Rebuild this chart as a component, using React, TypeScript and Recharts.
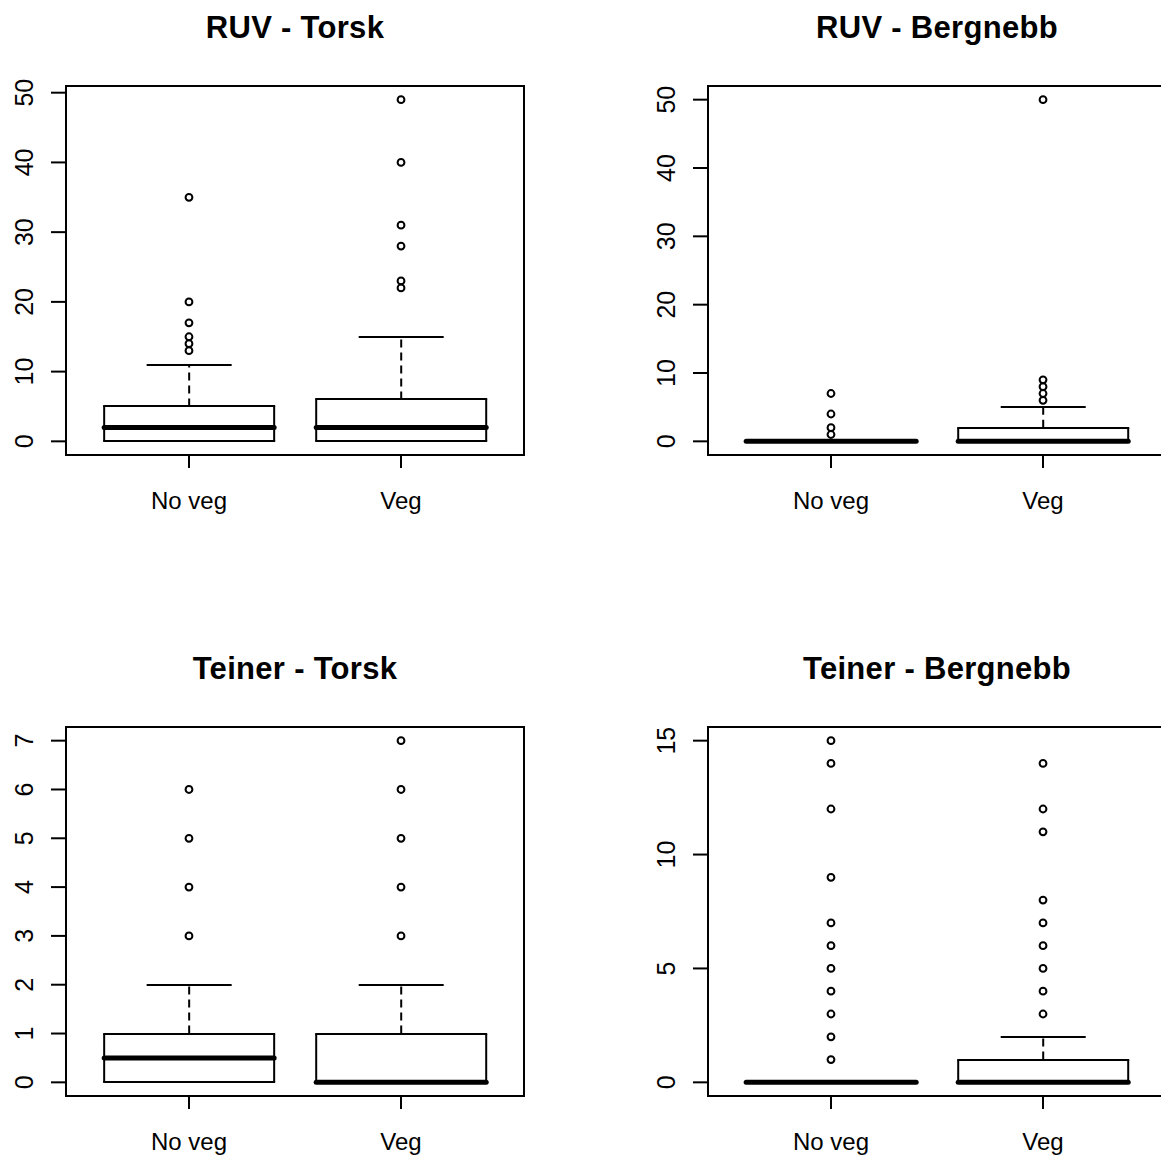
import { ComposedChart, Bar, Scatter, XAxis, YAxis, ReferenceArea } from 'recharts'

const groups = ['No veg', 'Veg']

// per group: [lower whisker, Q1, median, Q3, upper whisker]
const ruvTorskStats = [[0, 0, 2, 5, 11], [0, 0, 2, 6, 15]]
const ruvTorskOutliers = [[13, 14, 15, 17, 20, 35], [22, 23, 28, 31, 40, 49]]
const ruvBergStats = [[0, 0, 0, 0, 0], [0, 0, 0, 2, 5]]
const ruvBergOutliers = [[1, 2, 4, 7], [6, 7, 8, 9, 50]]
const teinTorskStats = [[0, 0, 0.5, 1, 2], [0, 0, 0, 1, 2]]
const teinTorskOutliers = [[3, 4, 5, 6], [3, 4, 5, 6, 7]]
const teinBergStats = [[0, 0, 0, 0, 0], [0, 0, 0, 1, 2]]
const teinBergOutliers = [[1, 2, 3, 4, 5, 6, 7, 9, 12, 14, 15], [3, 4, 5, 6, 7, 8, 11, 12, 14]]

const ruvTicks = [0, 10, 20, 30, 40, 50]
const teinTorskTicks = [0, 1, 2, 3, 4, 5, 6, 7]
const teinBergTicks = [0, 5, 10, 15]

const FONT = '"Liberation Sans", Arial, sans-serif'
const LW = 2
const ink = { stroke: '#000', strokeWidth: LW }
// keep 2px horizontal strokes on whole pixels so they stay crisp
const snap = (v: number) => Math.round(v)

const lowWhisker = (p: any) => {
  const cx = p.x + p.width / 2
  const yb = snap(p.y + p.height)
  return (
    <g>
      {p.height > 0 && <line x1={cx} x2={cx} y1={p.y} y2={yb} {...ink} strokeDasharray="8 5" />}
      <line x1={p.x + p.width / 4} x2={p.x + (p.width * 3) / 4} y1={yb} y2={yb} {...ink} />
    </g>
  )
}

const highWhisker = (p: any) => {
  const cx = p.x + p.width / 2
  const yt = snap(p.y)
  return (
    <g>
      {p.height > 0 && <line x1={cx} x2={cx} y1={p.y + p.height} y2={yt} {...ink} strokeDasharray="8 5" />}
      <line x1={p.x + p.width / 4} x2={p.x + (p.width * 3) / 4} y1={yt} y2={yt} {...ink} />
    </g>
  )
}

// lower half of the box: sides and bottom edge (Q1)
const lowBox = (p: any) => {
  const yb = snap(p.y + p.height)
  return (
    <g>
      <rect x={p.x} y={p.y} width={p.width} height={p.height} fill="#fff" />
      <line x1={p.x} x2={p.x} y1={p.y} y2={yb} {...ink} />
      <line x1={p.x + p.width} x2={p.x + p.width} y1={p.y} y2={yb} {...ink} />
      <line x1={p.x - LW / 2} x2={p.x + p.width + LW / 2} y1={yb} y2={yb} {...ink} />
    </g>
  )
}

// upper half of the box: sides, top edge (Q3) and the thick median line at its base
const highBox = (p: any) => {
  const yb = p.y + p.height
  const yt = snap(p.y)
  return (
    <g>
      <rect x={p.x} y={p.y} width={p.width} height={p.height} fill="#fff" />
      <line x1={p.x} x2={p.x} y1={yt} y2={yb} {...ink} />
      <line x1={p.x + p.width} x2={p.x + p.width} y1={yt} y2={yb} {...ink} />
      <line x1={p.x - LW / 2} x2={p.x + p.width + LW / 2} y1={yt} y2={yt} {...ink} />
      <line x1={p.x} x2={p.x + p.width} y1={yb} y2={yb} stroke="#000" strokeWidth={5} strokeLinecap="round" />
    </g>
  )
}

const outlierDot = (p: any) => (
  <circle cx={p.cx} cy={p.cy} r={3.4} fill="none" {...ink} />
)

const YTick = (p: any) => (
  <text x={p.x - 16} y={p.y} transform={`rotate(-90, ${p.x - 16}, ${p.y})`} textAnchor="middle" fontSize={25} fontFamily={FONT} fill="#000">
    {p.payload.value}
  </text>
)

const XTick = (p: any) => (
  <text x={p.x} y={p.y + 39} textAnchor="middle" fontSize={24} fontFamily={FONT} fill="#000">
    {groups[p.payload.value - 1]}
  </text>
)

function Panel({ title, stats, outliers, ticks, left, top }: {
  title: string
  stats: number[][]
  outliers: number[][]
  ticks: number[]
  left: number
  top: number
}) {
  const rows = stats.map(([lo, q1, med, q3, hi], i) => ({
    pos: i + 1,
    base: lo,
    lowW: q1 - lo,
    lowB: med - q1,
    highB: q3 - med,
    highW: hi - q3,
  }))
  const points = outliers.flatMap((vals, i) => vals.map((v) => ({ pos: i + 1, value: v })))
  const all = [...stats.flat(), ...outliers.flat()]
  const lo = Math.min(...all)
  const hi = Math.max(...all)
  const pad = (hi - lo) * 0.04
  const yDomain = [lo - pad, hi + pad]
  const xDomain = [0.42, 2.58]

  return (
    <div style={{ position: 'absolute', left, top, width: 580, height: 580 }}>
      <div style={{ position: 'absolute', left: 66, top: 12, width: 458, textAlign: 'center', fontFamily: FONT, fontWeight: 'bold', fontSize: 31, lineHeight: '31px', letterSpacing: 0.3 }}>
        {title}
      </div>
      <ComposedChart width={580} height={580} data={rows} margin={{ top: 86, right: 56, bottom: 65, left: 0 }} barCategoryGap="10%">
        <XAxis
          type="number"
          dataKey="pos"
          domain={xDomain}
          ticks={[1, 2]}
          interval={0}
          allowDataOverflow
          axisLine={false}
          tickSize={13}
          tickLine={ink}
          tick={<XTick />}
          height={60}
        />
        <YAxis
          type="number"
          domain={yDomain}
          ticks={ticks}
          interval={0}
          allowDataOverflow
          axisLine={false}
          tickSize={15}
          tickLine={ink}
          tick={<YTick />}
          width={66}
        />
        <Bar dataKey="base" stackId="box" fill="none" isAnimationActive={false} />
        <Bar dataKey="lowW" stackId="box" shape={lowWhisker} isAnimationActive={false} />
        <Bar dataKey="lowB" stackId="box" shape={lowBox} isAnimationActive={false} />
        <Bar dataKey="highB" stackId="box" shape={highBox} isAnimationActive={false} />
        <Bar dataKey="highW" stackId="box" shape={highWhisker} isAnimationActive={false} />
        <Scatter data={points} dataKey="value" shape={outlierDot} isAnimationActive={false} />
        <ReferenceArea x1={xDomain[0]} x2={xDomain[1]} y1={yDomain[0]} y2={yDomain[1]} fill="none" {...ink} />
      </ComposedChart>
    </div>
  )
}

export default function App() {
  return (
    <div style={{ position: 'absolute', left: 0, top: 0, width: 1161, height: 1160, overflow: 'hidden', background: '#fff' }}>
      <Panel title="RUV - Torsk" stats={ruvTorskStats} outliers={ruvTorskOutliers} ticks={ruvTicks} left={0} top={0} />
      <Panel title="RUV - Bergnebb" stats={ruvBergStats} outliers={ruvBergOutliers} ticks={ruvTicks} left={642} top={0} />
      <Panel title="Teiner - Torsk" stats={teinTorskStats} outliers={teinTorskOutliers} ticks={teinTorskTicks} left={0} top={641} />
      <Panel title="Teiner - Bergnebb" stats={teinBergStats} outliers={teinBergOutliers} ticks={teinBergTicks} left={642} top={641} />
    </div>
  )
}
